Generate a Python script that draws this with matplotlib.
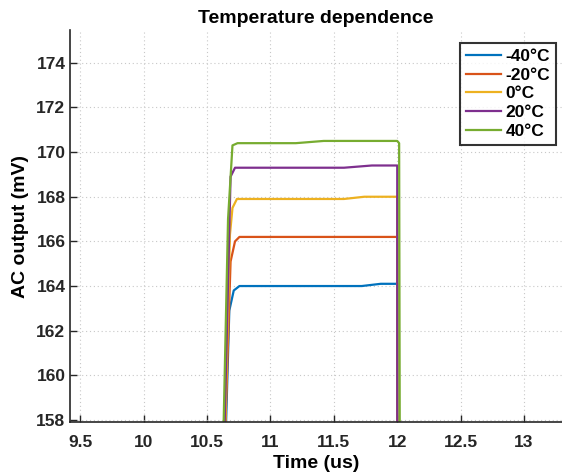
import numpy as np
import matplotlib.pyplot as plt

plt.rcParams['font.family'] = ['Liberation Sans', 'DejaVu Sans']

labels = ['-40°C', '-20°C', '0°C', '20°C', '40°C']
colors = ['#0072BD', '#D95319', '#EDB120', '#7E2F8E', '#77AC30']

# time (us) / AC output (mV) points
t_m40 = [10.645, 10.675, 10.71, 10.755, 11.72, 11.87, 12.0, 12.0]
v_m40 = [157.0, 162.9, 163.8, 164.0, 164.0, 164.1, 164.1, 157.0]
t_m20 = [10.64, 10.685, 10.72, 10.755, 12.0, 12.0]
v_m20 = [157.0, 165.1, 166.0, 166.2, 166.2, 157.0]
t_0 = [10.64, 10.68, 10.70, 10.735, 11.58, 11.74, 12.0, 12.0]
v_0 = [157.0, 166.3, 167.5, 167.9, 167.9, 168.0, 168.0, 157.0]
t_20 = [10.635, 10.685, 10.72, 11.58, 11.8, 12.0, 12.0]
v_20 = [157.0, 168.9, 169.3, 169.3, 169.4, 169.4, 157.0]
t_40 = [10.627, 10.665, 10.70, 10.74, 11.2, 11.42, 12.0, 12.015, 12.02]
v_40 = [157.0, 167.0, 170.3, 170.4, 170.4, 170.5, 170.5, 170.4, 157.0]

series_t = [t_m40, t_m20, t_0, t_20, t_40]
series_v = [v_m40, v_m20, v_0, v_20, v_40]

xticks = [9.5, 10, 10.5, 11, 11.5, 12, 12.5, 13]
yticks = [158, 160, 162, 164, 166, 168, 170, 172, 174]

fig = plt.figure(figsize=(5.62, 4.76), dpi=100)
ax = fig.add_axes([0.125, 0.113, 0.875, 0.824])

for t, v, c, lab in zip(series_t, series_v, colors, labels):
    ax.plot(t, v, color=c, lw=1.6, label=lab)

ax.set_xlim(9.42, 13.3)
ax.set_ylim(157.9, 175.47)
ax.set_xticks(xticks)
ax.set_xticklabels([f'{x:g}' for x in xticks])
ax.set_yticks(yticks)
ax.grid(True, color='#c8c8c8', linestyle=(0, (1, 2.5)), linewidth=0.8)
ax.tick_params(direction='in', length=5, width=1, labelsize=12.5, colors='#262626')
ax.tick_params(axis='x', pad=9)
for lbl in ax.get_xticklabels() + ax.get_yticklabels():
    lbl.set_fontweight('bold')
ax.spines['top'].set_visible(False)
ax.spines['right'].set_visible(False)
ax.spines['left'].set_color('#262626')
ax.spines['bottom'].set_color('#262626')
ax.spines['left'].set_linewidth(1.2)
ax.spines['bottom'].set_linewidth(1.2)

ax.set_xlabel('Time (us)', fontsize=14, fontweight='bold', labelpad=4)
ax.set_ylabel('AC output (mV)', fontsize=14, fontweight='bold', labelpad=5)
ax.set_title('Temperature dependence', fontsize=14, fontweight='bold', pad=5)

leg = ax.legend(loc='upper right', bbox_to_anchor=(0.988, 0.967), borderaxespad=0,
                frameon=True, fancybox=False, edgecolor='black', handlelength=2.0,
                borderpad=0.35, labelspacing=0.2, handletextpad=0.25,
                prop={'weight': 'bold', 'size': 12.5})
leg.get_frame().set_linewidth(1.5)

fig.savefig('out.png', dpi=100)
